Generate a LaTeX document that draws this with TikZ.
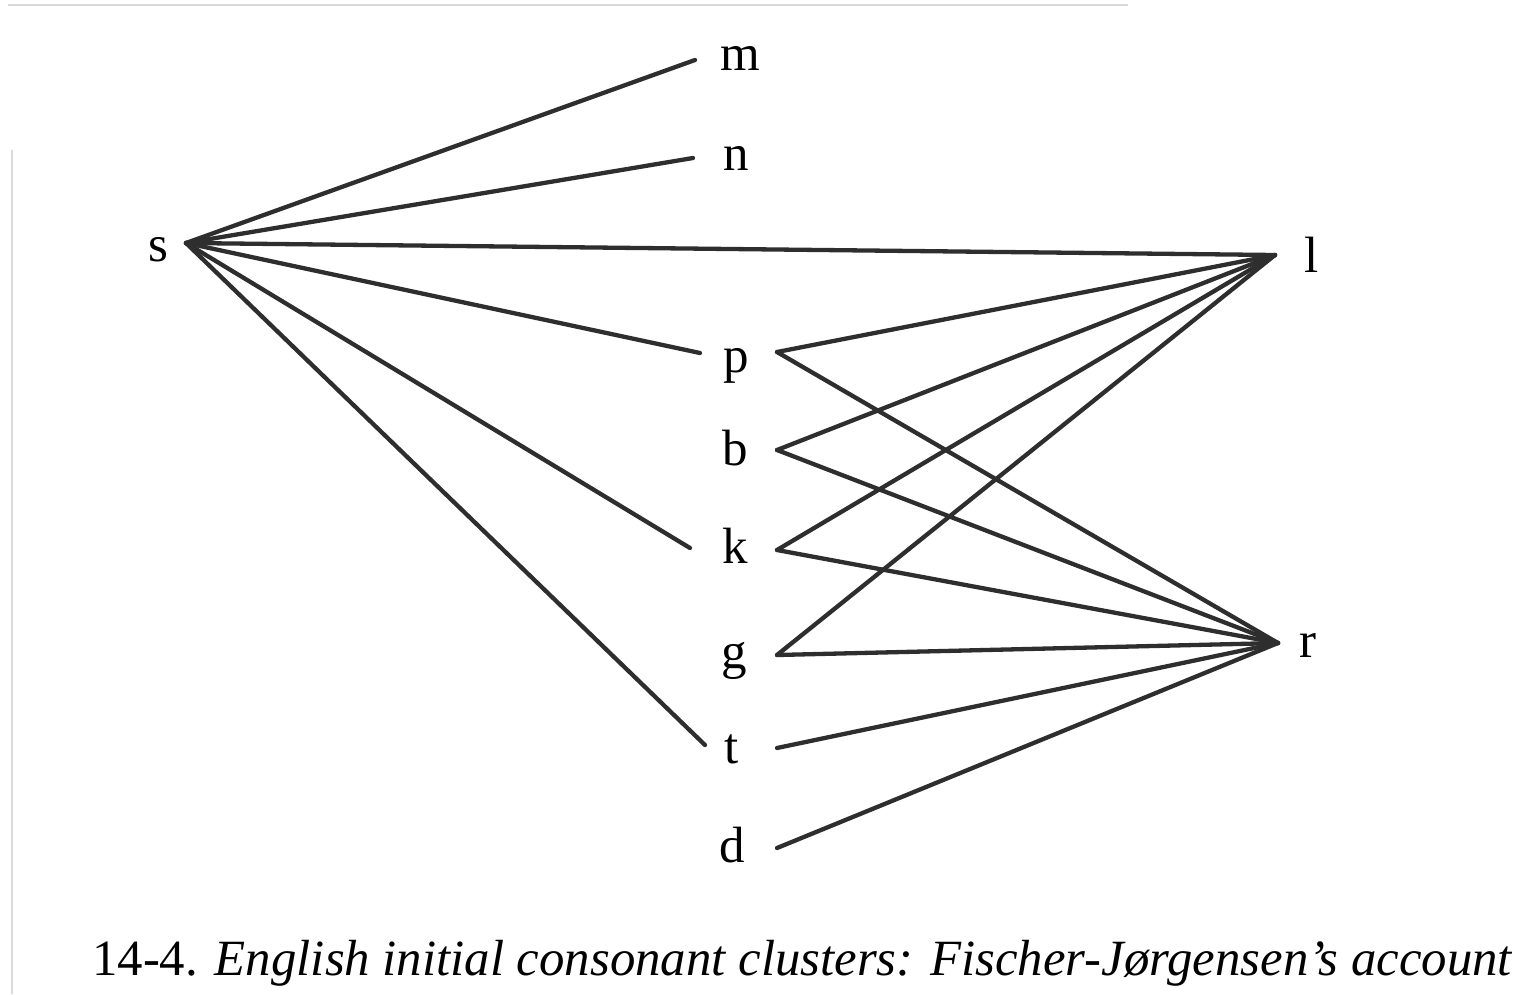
\documentclass[tikz,border=0pt]{standalone}
\usepackage{fontspec}
\setmainfont{Liberation Serif}
\begin{document}
\begin{tikzpicture}[x=1pt,y=-1pt,
  lbl/.style={inner sep=0pt,anchor=base,font=\fontsize{51}{60}\selectfont},
  edge/.style={line width=4.3pt,draw=black!82,line cap=round},
  scan/.style={line width=1.5pt,draw=black!15}]
\useasboundingbox (0,0) rectangle (1515,994);
% faint scan edges
\coordinate (tl) at (8,5); \coordinate (tr) at (1128,5);
\coordinate (lt) at (12,150); \coordinate (lb) at (12,994);
\draw[scan] (tl) -- (tr);
\draw[scan] (lt) -- (lb);
% labels
\node[lbl] (ls) at (158,261) {s};
\node[lbl] (lm) at (740,70) {m};
\node[lbl] (ln) at (736,170) {n};
\node[lbl] (ll) at (1312,272) {l};
\node[lbl] (lp) at (736,372) {p};
\node[lbl] (lb2) at (735,465) {b};
\node[lbl] (lk) at (735,563) {k};
\node[lbl] (lg) at (734,668) {g};
\node[lbl] (lt2) at (732,763) {t};
\node[lbl] (ld) at (732,862) {d};
\node[lbl] (lr) at (1308,657) {r};
% junction points
\coordinate (s) at (186,243);
\coordinate (l) at (1275,255);
\coordinate (r) at (1278,643);
\coordinate (mL) at (695,60);
\coordinate (nL) at (693,158);
\coordinate (pL) at (700,353);
\coordinate (kL) at (690,548);
\coordinate (tL) at (705,745);
\coordinate (pR) at (777,352);
\coordinate (bR) at (777,450);
\coordinate (kR) at (777,550);
\coordinate (gR) at (777,655);
\coordinate (tR) at (777,748);
\coordinate (dR) at (777,848);
% connectors from s
\draw[edge] (s) -- (mL);
\draw[edge] (s) -- (nL);
\draw[edge] (s) -- (l);
\draw[edge] (s) -- (pL);
\draw[edge] (s) -- (kL);
\draw[edge] (s) -- (tL);
% connectors to l and r
\draw[edge] (pR) -- (l);
\draw[edge] (pR) -- (r);
\draw[edge] (bR) -- (l);
\draw[edge] (bR) -- (r);
\draw[edge] (kR) -- (l);
\draw[edge] (kR) -- (r);
\draw[edge] (gR) -- (l);
\draw[edge] (gR) -- (r);
\draw[edge] (tR) -- (r);
\draw[edge] (dR) -- (r);
% caption
\node[inner sep=0pt,anchor=base west,font=\fontsize{50.8}{60}\selectfont] (cap) at (92,975)
  {14-4. \textit{English initial consonant clusters: Fischer-Jørgensen’s account}};
\end{tikzpicture}
\end{document}
